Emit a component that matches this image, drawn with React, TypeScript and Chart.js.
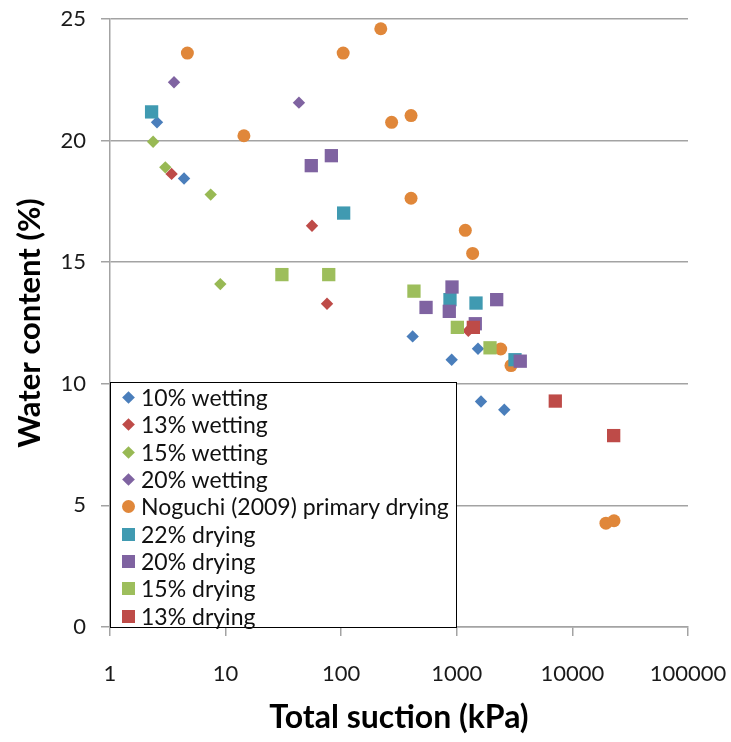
import React, { useEffect, useRef } from "react";
import { Chart, registerables } from "chart.js";

Chart.register(...registerables);

// ---- data (total suction kPa, water content %) ----
const wet10Suction = [2.55, 4.37, 415, 903, 1525, 1619, 2575];
const wet10Water = [20.75, 18.44, 11.95, 10.99, 11.44, 9.27, 8.93];

const wet13Suction = [3.41, 55.9, 75.4, 1258];
const wet13Water = [18.63, 16.5, 13.29, 12.18];

const wet15Suction = [2.36, 3.01, 7.43, 9.0];
const wet15Water = [19.95, 18.9, 17.78, 14.1];

const wet20Suction = [3.58, 43.1];
const wet20Water = [22.4, 21.56];

const noguchiSuction = [4.67, 104, 220, 14.4, 273, 402, 402, 1185, 1371, 2398, 2943, 19500, 22900];
const noguchiWater = [23.6, 23.6, 24.6, 20.2, 20.75, 21.03, 17.63, 16.31, 15.36, 11.43, 10.75, 4.27, 4.37];

const dry22Suction = [2.29, 105, 873, 1466, 3187];
const dry22Water = [21.18, 17.02, 13.46, 13.32, 10.99];

const dry20Suction = [55.1, 82.2, 542, 861, 909, 1445, 2213, 3540];
const dry20Water = [18.97, 19.38, 13.14, 12.98, 13.98, 12.47, 13.46, 10.93];

const dry15Suction = [30.7, 78, 426, 1011, 1938];
const dry15Water = [14.49, 14.49, 13.81, 12.32, 11.48];

const dry13Suction = [1390, 7112, 22750];
const dry13Water = [12.32, 9.29, 7.87];

const seriesNames = [
  "10% wetting",
  "13% wetting",
  "15% wetting",
  "20% wetting",
  "Noguchi (2009) primary drying",
  "22% drying",
  "20% drying",
  "15% drying",
  "13% drying",
];
const seriesColors = ["#4A7EBB", "#BE4B48", "#98B954", "#7F63A1", "#E0873A", "#409AB1", "#7F63A1", "#9DBE5C", "#BE4B48"];
const seriesShapes = ["rectRot", "rectRot", "rectRot", "rectRot", "circle", "rect", "rect", "rect", "rect"];
const seriesX = [wet10Suction, wet13Suction, wet15Suction, wet20Suction, noguchiSuction, dry22Suction, dry20Suction, dry15Suction, dry13Suction];
const seriesY = [wet10Water, wet13Water, wet15Water, wet20Water, noguchiWater, dry22Water, dry20Water, dry15Water, dry13Water];

const xTicks = [1, 10, 100, 1000, 10000, 100000];
const yTicks = [0, 5, 10, 15, 20, 25];

const FONT = "Lato, 'Open Sans', sans-serif";
const GRID = "#a3a3a3";

function radiusFor(shape: string) {
  if (shape === "rect") return 9.4;
  if (shape === "circle") return 6.5;
  return 6.2;
}

export default function App() {
  const ref = useRef<HTMLCanvasElement | null>(null);

  useEffect(() => {
    if (!ref.current) return;
    const n = seriesNames.length;
    const datasets = seriesNames.map((name, i) => ({
      label: name,
      data: seriesX[i].map((x, j) => ({ x, y: seriesY[i][j] })),
      pointStyle: seriesShapes[i],
      pointRadius: radiusFor(seriesShapes[i]),
      pointBackgroundColor: seriesColors[i],
      pointBorderColor: seriesColors[i],
      pointBorderWidth: 0,
      showLine: false,
      order: n - i,
    }));

    const chart = new Chart(ref.current, {
      type: "scatter",
      data: { datasets: datasets as any },
      options: {
        animation: false,
        responsive: false,
        devicePixelRatio: 1,
        layout: { padding: { left: 0, top: 19, right: 43, bottom: 0 } },
        plugins: { legend: { display: false }, tooltip: { enabled: false } },
        scales: {
          x: {
            type: "logarithmic",
            min: 1,
            max: 100000,
            afterBuildTicks: (scale: any) => {
              scale.ticks = xTicks.map((v) => ({ value: v }));
            },
            afterFit: (scale: any) => {
              scale.height = 115;
              scale.paddingLeft = 0;
              scale.paddingRight = 0;
            },
            ticks: {
              callback: (v: any) => String(v),
              font: { family: FONT, size: 22 },
              color: "#1a1a1a",
              padding: 25,
              maxRotation: 0,
              autoSkip: false,
            },
            grid: { display: true, drawOnChartArea: false, drawTicks: true, tickLength: 9, color: GRID, lineWidth: 1.5 },
            border: { display: true, color: GRID, width: 1.5 },
            title: {
              display: true,
              text: "Total suction (kPa)",
              font: { family: FONT, size: 32, weight: "bold" },
              color: "#000",
              padding: { top: 0, bottom: 5 },
            },
          },
          y: {
            type: "linear",
            min: 0,
            max: 25,
            afterBuildTicks: (scale: any) => {
              scale.ticks = yTicks.map((v) => ({ value: v }));
            },
            afterFit: (scale: any) => {
              scale.width = 110;
              scale.paddingTop = 0;
              scale.paddingBottom = 0;
            },
            ticks: {
              font: { family: FONT, size: 22 },
              color: "#1a1a1a",
              padding: 15,
            },
            grid: { display: true, drawOnChartArea: true, drawTicks: true, tickLength: 9, color: GRID, lineWidth: 1.5 },
            border: { display: true, color: GRID, width: 1.5 },
            title: {
              display: true,
              text: "Water content (%)",
              font: { family: FONT, size: 31, weight: "bold" },
              color: "#000",
              padding: { top: 11, bottom: 0 },
            },
          },
        },
      },
    });
    return () => chart.destroy();
  }, []);

  const markerStyle = (i: number): React.CSSProperties => {
    const shape = seriesShapes[i];
    const c = seriesColors[i];
    if (shape === "rectRot") return { width: 9, height: 9, background: c, transform: "rotate(45deg)" };
    if (shape === "circle") return { width: 13, height: 13, background: c, borderRadius: "50%" };
    return { width: 13, height: 13, background: c };
  };

  return (
    <div style={{ position: "fixed", left: 0, top: 0, width: 731, height: 742, background: "#fff" }}>
      <canvas ref={ref} width={731} height={742} style={{ display: "block", width: 731, height: 742 }} />
      <div
        style={{
          position: "absolute",
          left: 110,
          top: 382,
          width: 347,
          height: 246,
          boxSizing: "border-box",
          border: "1.5px solid #000",
          background: "#fff",
          paddingTop: 1,
        }}
      >
        {seriesNames.map((name, i) => (
          <div key={name} style={{ display: "flex", alignItems: "center", height: 27.3 }}>
            <div style={{ width: 30, display: "flex", justifyContent: "center", alignItems: "center", paddingLeft: 4, boxSizing: "border-box" }}>
              <div style={markerStyle(i)} />
            </div>
            <span style={{ fontFamily: FONT, fontSize: 23, color: "#111", whiteSpace: "nowrap", lineHeight: "27px" }}>{name}</span>
          </div>
        ))}
      </div>
    </div>
  );
}
